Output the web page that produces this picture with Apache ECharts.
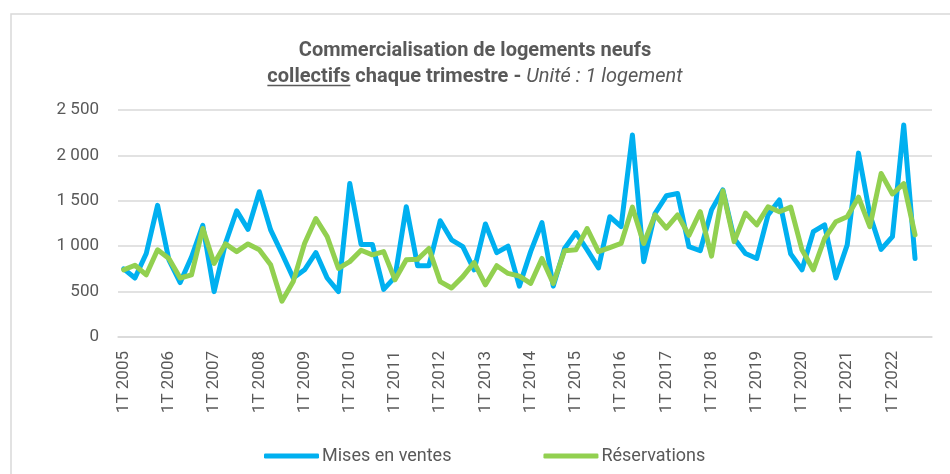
<!DOCTYPE html>
<html>
<head>
<meta charset="utf-8">
<script src="https://cdn.jsdelivr.net/npm/echarts@6/dist/echarts.min.js"></script>
<style>html,body{margin:0;padding:0;background:#fff;}#c{width:950px;height:474px;}</style>
</head>
<body>
<div id="c"></div>
<script>
const years = [2005,2006,2007,2008,2009,2010,2011,2012,2013,2014,2015,2016,2017,2018,2019,2020,2021,2022];
const quarters = ['1T','2T','3T','4T'];
const categories = [];
years.forEach(y => quarters.forEach(q => categories.push(q + ' ' + y)));

const misesEnVentes = [
  750, 650, 920, 1450, 850, 600, 880, 1230, 500, 1030, 1390, 1185,
  1600, 1180, 920, 650, 740, 930, 650, 500, 1690, 1020, 1020, 525,
  660, 1435, 785, 785, 1280, 1070, 995, 740, 1245, 930, 1000, 560,
  940, 1260, 560, 975, 1150, 960, 760, 1325, 1215, 2225, 830, 1360,
  1555, 1580, 995, 950, 1400, 1620, 1085, 920, 865, 1345, 1510, 915,
  740, 1160, 1235, 650, 1015, 2025, 1350, 965, 1105, 2335, 865, null
];
const reservations = [
  740, 790, 685, 960, 865, 650, 685, 1195, 810, 1025, 940, 1025,
  960, 795, 395, 610, 1030, 1305, 1105, 755, 830, 955, 905, 940,
  630, 850, 855, 975, 610, 540, 665, 820, 575, 785, 700, 670,
  590, 865, 590, 950, 960, 1195, 940, 985, 1030, 1430, 1030, 1345,
  1200, 1345, 1120, 1380, 890, 1610, 1050, 1365, 1235, 1435, 1380, 1430,
  960, 740, 1085, 1270, 1325, 1540, 1215, 1800, 1575, 1690, 1125, null
];

const txt = '#595959';
const titleSize = 20;
const W = 950;

// measure line 2 to place the underline under "collectifs"
const mctx = document.createElement('canvas').getContext('2d');
mctx.font = 'bold ' + titleSize + 'px Roboto';
const wU = mctx.measureText('collectifs').width;
const wB = mctx.measureText(' chaque trimestre - ').width;
mctx.font = 'italic ' + titleSize + 'px Roboto';
const wI = mctx.measureText('Unité : 1 logement').width;
const line2Start = W / 2 - (wU + wB + wI) / 2;

const chart = echarts.init(document.getElementById('c'));
chart.setOption({
  animation: false,
  textStyle: { fontFamily: 'Roboto' },
  title: {
    left: 'center',
    top: 33,
    text: '{b|Commercialisation de logements neufs}\n{b|collectifs}{b| chaque trimestre - }{i|Unité : 1 logement}',
    textStyle: {
      rich: {
        b: { fontFamily: 'Roboto', fontWeight: 'bold', fontSize: titleSize, color: txt, lineHeight: 26 },
        i: { fontFamily: 'Roboto', fontWeight: 'normal', fontStyle: 'italic', fontSize: titleSize, color: txt, lineHeight: 26 }
      }
    }
  },
  graphic: [
    { type: 'rect', shape: { x: 11, y: 14, width: 1200, height: 1000 }, style: { fill: 'none', stroke: '#d9d9d9', lineWidth: 1.5 }, silent: true },
    { type: 'line', shape: { x1: line2Start, y1: 85.5, x2: line2Start + wU, y2: 85.5 }, style: { stroke: txt, lineWidth: 1.5 }, silent: true }
  ],
  legend: {
    bottom: 4,
    left: 259,
    itemGap: 92,
    itemWidth: 55,
    itemHeight: 5,
    icon: 'roundRect',
    textStyle: { fontFamily: 'Roboto', fontSize: 18, color: txt, padding: [0, 0, 0, -2] },
    data: ['Mises en ventes', 'Réservations']
  },
  grid: { left: 118, right: 18, top: 110, bottom: 137, containLabel: false },
  xAxis: {
    type: 'category',
    data: categories,
    boundaryGap: true,
    axisLine: { show: true, lineStyle: { color: '#d9d9d9', width: 1.5 } },
    axisTick: { show: false },
    axisLabel: { interval: 3, rotate: 90, fontFamily: 'Roboto', fontSize: 17, color: txt, margin: 14 }
  },
  yAxis: {
    type: 'value',
    min: 0, max: 2500, interval: 500,
    axisLine: { show: false },
    axisTick: { show: false },
    splitLine: { lineStyle: { color: '#d9d9d9', width: 1.5 } },
    axisLabel: {
      fontFamily: 'Roboto', fontSize: 17, color: txt, margin: 19,
      formatter: v => String(v).replace(/\B(?=(\d{3})+(?!\d))/g, ' ')
    }
  },
  series: [
    { name: 'Mises en ventes', type: 'line', data: misesEnVentes, showSymbol: false, symbol: 'none',
      itemStyle: { color: '#00b0f0' }, lineStyle: { color: '#00b0f0', width: 5, join: 'round', cap: 'round' } },
    { name: 'Réservations', type: 'line', data: reservations, showSymbol: false, symbol: 'none',
      itemStyle: { color: '#92d050' }, lineStyle: { color: '#92d050', width: 5, join: 'round', cap: 'round' } }
  ]
});
</script>
</body>
</html>
